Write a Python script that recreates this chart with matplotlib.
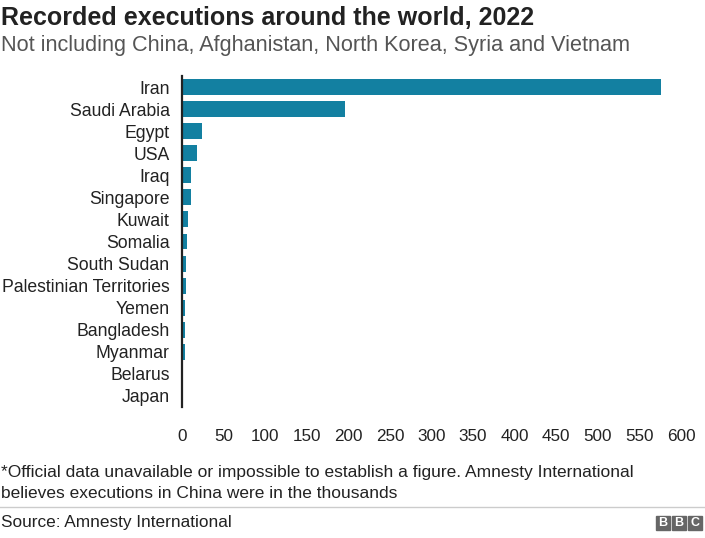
import matplotlib.pyplot as plt
from matplotlib.patches import Rectangle

plt.rcParams['font.family'] = ['Liberation Sans', 'DejaVu Sans']

countries = ['Iran', 'Saudi Arabia', 'Egypt', 'USA', 'Iraq', 'Singapore', 'Kuwait',
             'Somalia', 'South Sudan', 'Palestinian Territories', 'Yemen',
             'Bangladesh', 'Myanmar', 'Belarus', 'Japan']
executions = [576, 196, 24, 18, 11, 11, 7, 6, 5, 5, 4, 4, 4, 1, 1]
xticks = [0, 50, 100, 150, 200, 250, 300, 350, 400, 450, 500, 550, 600]

W, H = 705, 538
fig = plt.figure(figsize=(W / 100, H / 100), dpi=100)
ax = fig.add_axes([182 / W, 1 - 407 / H, (681 - 182) / W, (407 - 76) / H])

ypos = list(range(len(countries)))
ax.barh(ypos, executions, height=0.72, color='#1380A1')
ax.set_ylim(len(countries) - 0.5, -0.5)
ax.set_xlim(0, 600)
ax.set_yticks(ypos)
ax.set_yticklabels(countries, fontsize=12.7, color='#222222')
ax.set_xticks(xticks)
ax.set_xticklabels([str(t) for t in xticks], fontsize=12.3, color='#222222')
ax.tick_params(axis='y', length=0, pad=9)
ax.tick_params(axis='x', length=0, pad=16)
for s in ['top', 'right', 'bottom']:
    ax.spines[s].set_visible(False)
ax.spines['left'].set_linewidth(1.6)
ax.spines['left'].set_color('#222222')

fig.text(1 / W, 1 - 18 / H, 'Recorded executions around the world, 2022',
         fontsize=18, fontweight='bold', color='#222222', va='center')
fig.text(1 / W, 1 - 46 / H, 'Not including China, Afghanistan, North Korea, Syria and Vietnam',
         fontsize=15.6, color='#555555', va='center')
fig.text(1 / W, 1 - 472 / H, '*Official data unavailable or impossible to establish a figure. Amnesty International',
         fontsize=12.5, color='#222222', va='center')
fig.text(1 / W, 1 - 493 / H, 'believes executions in China were in the thousands',
         fontsize=12.5, color='#222222', va='center')
fig.add_artist(plt.Line2D([0, 1], [1 - 507 / H, 1 - 507 / H], color='#cccccc', lw=1,
                          transform=fig.transFigure))
fig.text(1 / W, 1 - 522 / H, 'Source: Amnesty International',
         fontsize=12.4, color='#222222', va='center')

# BBC logo
for i, letter in enumerate('BBC'):
    x0 = 656 + i * 16
    fig.add_artist(Rectangle((x0 / W, 1 - 530 / H), 14 / W, 14 / H,
                             transform=fig.transFigure, color='#666666'))
    fig.text((x0 + 7) / W, 1 - 523 / H, letter, fontsize=9, fontweight='bold',
             color='white', ha='center', va='center')

fig.savefig('out.png', dpi=100)
